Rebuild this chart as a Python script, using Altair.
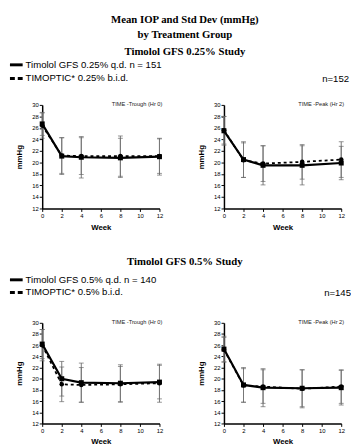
import altair as alt
import pandas as pd

# ---------------- data ----------------
weeks = [0, 2, 4, 8, 12]
x_ticks = [0, 2, 4, 6, 8, 10, 12]
y_ticks = [12, 14, 16, 18, 20, 22, 24, 26, 28, 30]

# Timolol GFS 0.25% study, trough
p1_gfs_mean = [26.7, 21.1, 20.9, 20.8, 21.0]
p1_gfs_sd = [2.0, 3.2, 3.6, 3.4, 3.2]
p1_tim_mean = [26.4, 21.2, 21.1, 21.1, 21.1]
p1_tim_sd = [2.2, 3.1, 3.2, 3.5, 3.0]
# Timolol GFS 0.25% study, peak
p2_gfs_mean = [25.5, 20.5, 19.5, 19.5, 19.9]
p2_gfs_sd = [2.5, 3.1, 3.4, 3.4, 2.9]
p2_tim_mean = [25.6, 20.4, 19.8, 20.1, 20.5]
p2_tim_sd = [2.4, 3.0, 3.1, 3.0, 3.1]
# Timolol GFS 0.5% study, trough
p3_gfs_mean = [26.2, 20.0, 19.3, 19.2, 19.4]
p3_gfs_sd = [2.6, 3.1, 3.5, 3.3, 3.0]
p3_tim_mean = [26.0, 19.0, 18.9, 19.0, 19.2]
p3_tim_sd = [2.8, 3.1, 3.1, 3.2, 3.4]
# Timolol GFS 0.5% study, peak
p4_gfs_mean = [25.3, 18.9, 18.4, 18.3, 18.4]
p4_gfs_sd = [2.3, 3.1, 3.4, 3.3, 3.1]
p4_tim_mean = [25.2, 18.8, 18.6, 18.2, 18.6]
p4_tim_sd = [2.2, 3.0, 3.0, 3.4, 3.0]

title_lines = ["Mean IOP and Std Dev (mmHg)", "by Treatment Group", "Timolol GFS 0.25% Study"]
study2_title = "Timolol GFS 0.5% Study"
legend_top = ["Timolol GFS 0.25% q.d. n = 151", "TIMOPTIC* 0.25% b.i.d.", "n=152"]
legend_bot = ["Timolol GFS 0.5% q.d. n = 140", "TIMOPTIC* 0.5% b.i.d.", "n=145"]
panel_labels = ["TIME -Trough (Hr 0)", "TIME -Peak (Hr 2)"]

SERIF = "Liberation Serif"
SANS = "Liberation Sans"
LEG = 9.8


def make_df(gm, gs, tm, ts):
    rows = []
    for name, m, s in [("GFS", gm, gs), ("TIM", tm, ts)]:
        for w, mv, sv in zip(weeks, m, s):
            rows.append({"series": name, "week": w, "mean": mv,
                         "lo": mv - sv, "hi": mv + sv})
    return pd.DataFrame(rows)


def txt(s, x, y, size, font, weight="normal", align="left", color="black"):
    return alt.Chart(pd.DataFrame({"t": [s]})).mark_text(
        align=align, baseline="middle", fontSize=size, font=font,
        fontWeight=weight, color=color
    ).encode(x=alt.value(x), y=alt.value(y), text="t:N")


def seg(x1, x2, y, dash=None):
    kw = dict(color="black", strokeWidth=3)
    if dash:
        kw["strokeDash"] = dash
    return alt.Chart(pd.DataFrame({"a": [0]})).mark_rule(**kw).encode(
        x=alt.value(x1), x2=alt.value(x2), y=alt.value(y))


def panel(df, label, w, h, extra=()):
    xs = alt.Scale(domain=[0, 12], nice=False)
    ys = alt.Scale(domain=[12, 30], nice=False)
    xa = alt.Axis(values=x_ticks, title="Week", labelFlush=False, labelOverlap=False)
    ya = alt.Axis(values=y_ticks, title="mmHg", labelOverlap=False)
    X = alt.X("week:Q", scale=xs, axis=xa)
    base = alt.Chart(df)
    err = base.mark_rule(color="#777", strokeWidth=1).encode(
        x=X, y=alt.Y("lo:Q", scale=ys, axis=ya), y2="hi:Q")
    cap_lo = base.mark_tick(orient="horizontal", size=5, thickness=1, color="#666").encode(
        x=X, y=alt.Y("lo:Q", scale=ys, axis=ya))
    cap_hi = base.mark_tick(orient="horizontal", size=5, thickness=1, color="#666").encode(
        x=X, y=alt.Y("hi:Q", scale=ys, axis=ya))
    Y = alt.Y("mean:Q", scale=ys, axis=ya)
    g = base.transform_filter(alt.datum.series == "GFS")
    t = base.transform_filter(alt.datum.series == "TIM")
    line_t = t.mark_line(color="black", strokeWidth=1.8, strokeDash=[3, 3]).encode(x=X, y=Y)
    line_g = g.mark_line(color="black", strokeWidth=2.2).encode(x=X, y=Y)
    pts_t = t.mark_point(shape="circle", filled=True, size=22, color="black", opacity=1).encode(x=X, y=Y)
    pts_g = g.mark_square(size=26, color="black", opacity=1).encode(x=X, y=Y)
    lab = txt(label, w + 3, -1, 5.8, SANS, color="#222", align="right")
    return alt.layer(err, cap_lo, cap_hi, line_t, line_g, pts_t, pts_g, lab, *extra).properties(
        width=w, height=h)


anchor = alt.Chart(pd.DataFrame({"a": [0]})).mark_rule(opacity=0, strokeWidth=0.1).encode(
    x=alt.value(-33), x2=alt.value(0), y=alt.value(-94))

top_text = [
    anchor,
    txt(title_lines[0], 146, -87, 11, SERIF, "bold", "center"),
    txt(title_lines[1], 146, -71, 11, SERIF, "bold", "center"),
    txt(title_lines[2], 146, -54, 11, SERIF, "bold", "center"),
    seg(-33, -20, -41),
    txt(legend_top[0], -17, -41, LEG, SANS),
    seg(-33, -20, -27, [5, 3]),
    txt(legend_top[1], -17, -27, LEG, SANS),
    txt(legend_top[2], 314, -26, LEG, SANS, align="right"),
]

bot_text = [
    txt(study2_title, 146, -62, 11, SERIF, "bold", "center"),
    seg(-33, -20, -44),
    txt(legend_bot[0], -17, -44, LEG, SANS),
    seg(-33, -20, -31, [5, 3]),
    txt(legend_bot[1], -17, -31, LEG, SANS),
    txt(legend_bot[2], 316, -30, LEG, SANS, align="right"),
]

p1 = panel(make_df(p1_gfs_mean, p1_gfs_sd, p1_tim_mean, p1_tim_sd), panel_labels[0], 120, 106, top_text)
p2 = panel(make_df(p2_gfs_mean, p2_gfs_sd, p2_tim_mean, p2_tim_sd), panel_labels[1], 120, 106)
p3 = panel(make_df(p3_gfs_mean, p3_gfs_sd, p3_tim_mean, p3_tim_sd), panel_labels[0], 120, 103, bot_text)
p4 = panel(make_df(p4_gfs_mean, p4_gfs_sd, p4_tim_mean, p4_tim_sd), panel_labels[1], 120, 103)

chart = alt.concat(
    p1, p2, p3, p4, columns=2, spacing={"row": 117, "column": 66}, bounds="flush"
).properties(
    padding=0
).configure_view(stroke=None).configure_axis(
    grid=False, domainColor="black", domainWidth=1.5, tickColor="black", tickSize=3,
    tickWidth=1, labelFont=SANS, labelFontSize=6, labelColor="black", labelPadding=1,
    titleFont=SANS, titleFontSize=8, titleFontWeight="bold", titleColor="black",
).configure_axisX(titlePadding=5).configure_axisY(titlePadding=8)

chart.save("out.html", embed_options={"renderer": "svg", "actions": False})
